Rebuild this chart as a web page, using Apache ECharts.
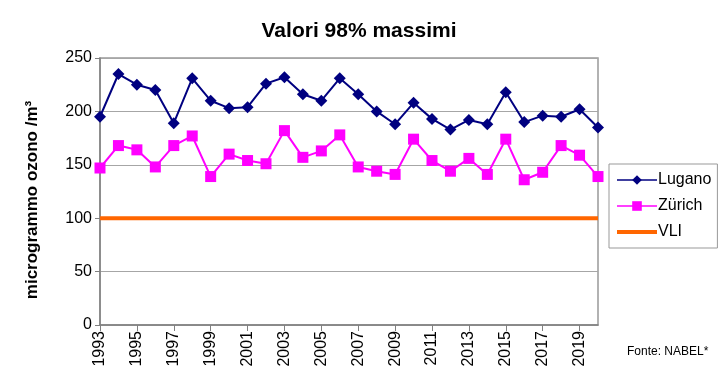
<!DOCTYPE html>
<html><head><meta charset="utf-8">
<script src="https://cdn.jsdelivr.net/npm/echarts@6/dist/echarts.min.js"></script>
<style>html,body{margin:0;padding:0;background:#fff}#c{width:728px;height:381px}</style>
</head><body><div id="c"></div>
<script>
const years = ['1993','1994','1995','1996','1997','1998','1999','2000','2001','2002','2003','2004','2005','2006','2007','2008','2009','2010','2011','2012','2013','2014','2015','2016','2017','2018','2019','2020'];
const lugano = [195,235,225,220,189,231,210,203,204,226,232,216,210,231,216,200,188,208,193,183,192,188,218,190,196,195,202,185];
const zurich = [147,168,164,148,168,177,139,160,154,151,182,157,163,178,148,144,141,174,154,144,156,141,174,136,143,168,159,139];
const vli = years.map(() => 100);
const yTicks = [0,50,100,150,200,250];

const chart = echarts.init(document.getElementById('c'));
const font = 'Liberation Sans, Arial, sans-serif';
chart.setOption({
  animation: false,
  textStyle: {fontFamily: font},
  title: {text: 'Valori 98% massimi', left: 354, top: 16, textAlign: 'center',
    textStyle: {fontSize: 21, fontWeight: 'bold', color: '#000', fontFamily: font}},
  graphic: [
    {type: 'text', left: 627, top: 346, style: {text: 'Fonte: NABEL*', fontSize: 12, fill: '#000', fontFamily: font}},
    {type: 'text', x: 32, y: 200, rotation: Math.PI / 2,
      style: {text: 'microgrammo ozono /m³', fontSize: 17, fontWeight: 'bold', fill: '#000', fontFamily: font,
        align: 'center', verticalAlign: 'middle'}},
    {type: 'rect', shape: {x: 100, y: 58, width: 498, height: 267}, style: {fill: 'none', stroke: '#999', lineWidth: 1.5}, z: 0}
  ],
  legend: {
    orient: 'vertical', left: 609, top: 164, itemGap: 10, padding: [8, 6, 8, 6],
    borderColor: '#999', borderWidth: 1, itemWidth: 40, itemHeight: 12,
    textStyle: {fontSize: 16, color: '#000', fontFamily: font, padding: [0,0,0,-4]},
    data: [{name: 'Lugano', lineStyle: {width: 1.5}}, {name: 'Zürich', lineStyle: {width: 1.5}},
      {name: 'VLI', itemStyle: {opacity: 0}, lineStyle: {width: 4}}]
  },
  grid: {left: 100, right: 130, top: 58, bottom: 56},
  xAxis: {
    type: 'category', data: years, boundaryGap: false,
    axisLine: {lineStyle: {color: '#808080', width: 1.5}},
    axisTick: {interval: 1, length: 6, lineStyle: {color: '#808080'}},
    axisLabel: {interval: 1, rotate: 90, fontSize: 16, color: '#000', fontFamily: font, margin: 6},
    splitLine: {show: false}
  },
  yAxis: {
    type: 'value', min: 0, max: 250, interval: 50,
    axisLine: {show: true, lineStyle: {color: '#808080', width: 1.5}},
    axisTick: {show: true, length: 5, lineStyle: {color: '#808080'}},
    axisLabel: {fontSize: 16, color: '#000', fontFamily: font, margin: 8,
      formatter: v => yTicks.includes(v) ? String(v) : ''},
    splitLine: {lineStyle: {color: '#a6a6a6', width: 1}}
  },
  series: [
    {name: 'Lugano', type: 'line', data: lugano, symbol: 'diamond', symbolSize: 12, showAllSymbol: true,
      lineStyle: {color: '#000080', width: 2}, itemStyle: {color: '#000080'}, z: 4},
    {name: 'Zürich', type: 'line', data: zurich, symbol: 'rect', symbolSize: 11, showAllSymbol: true,
      lineStyle: {color: '#ff00ff', width: 2}, itemStyle: {color: '#ff00ff'}, z: 3},
    {name: 'VLI', type: 'line', data: vli, symbol: 'none',
      lineStyle: {color: '#ff6600', width: 4}, itemStyle: {color: '#ff6600'}, z: 2}
  ]
});
</script></body></html>
